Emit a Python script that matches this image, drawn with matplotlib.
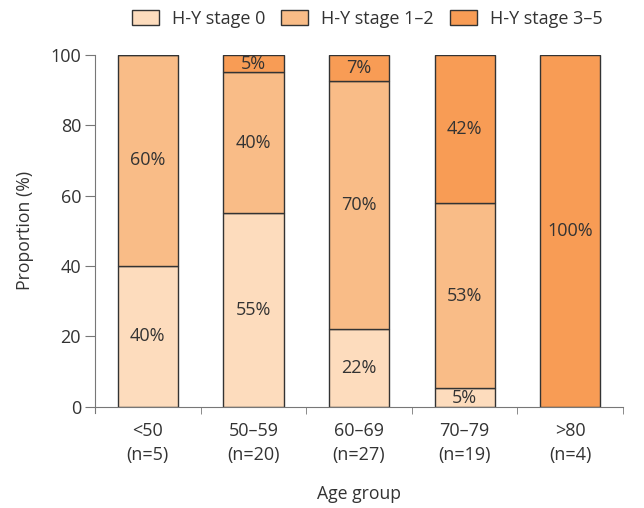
import numpy as np
import matplotlib.pyplot as plt
from matplotlib.patches import Patch

plt.rcParams["font.family"] = ["Open Sans", "DejaVu Sans"]

groups = ["<50\n(n=5)", "50\u201359\n(n=20)", "60\u201369\n(n=27)", "70\u201379\n(n=19)", ">80\n(n=4)"]
stage0 = [40.0, 55.0, 22.2, 5.3, 0.0]
stage12 = [60.0, 40.0, 70.4, 52.6, 0.0]
stage35 = [0.0, 5.0, 7.4, 42.1, 100.0]
series_names = ["H-Y stage 0", "H-Y stage 1\u20132", "H-Y stage 3\u20135"]
colors = ["#fddcbd", "#f9bc87", "#f89c55"]

text_color = "#333333"

fig = plt.figure(figsize=(6.44, 5.08), dpi=100)
ax = fig.add_axes([0.1475, 0.199, 0.82, 0.693])

x = np.arange(len(groups))
bottom = np.zeros(len(groups))
for vals, c in zip([stage0, stage12, stage35], colors):
    vals = np.array(vals)
    ax.bar(x, vals, width=0.57, bottom=bottom, color=c, edgecolor="#333333", linewidth=1.0)
    for xi, b, v in zip(x, bottom, vals):
        if v > 0:
            ax.text(xi, b + v / 2, f"{v:.0f}%", ha="center", va="center",
                    fontsize=13, color=text_color)
    bottom += vals

ax.set_xlim(-0.5, 4.5)
ax.set_ylim(0, 100)
ax.set_yticks([0, 20, 40, 60, 80, 100])
ax.set_xticks(x)
ax.set_xticklabels(groups, fontsize=13, color=text_color, linespacing=1.45)
ax.tick_params(axis="x", length=0, pad=11)
ax.set_xticks(list(x[:-1] + 0.5) + [4.5], minor=True)
ax.tick_params(axis="x", which="minor", length=5, color="#777777")
ax.tick_params(axis="y", length=7, color="#777777", labelsize=13, labelcolor=text_color, pad=3)

for s in ["top", "right"]:
    ax.spines[s].set_visible(False)
ax.spines["left"].set_color("#777777")
ax.spines["bottom"].set_color("#777777")
ax.spines["left"].set_bounds(-1.8, 100)
ax.spines["left"].set_position(("data", -0.5))

ax.set_ylabel("Proportion (%)", fontsize=12.7, color=text_color, labelpad=12)
ax.set_xlabel("Age group", fontsize=12.7, color=text_color, labelpad=15)

handles = [Patch(facecolor=c, edgecolor="#333333", linewidth=1.0) for c in colors]
fig.legend(handles, series_names, loc="upper center", bbox_to_anchor=(0.57, 1.012),
           ncol=3, frameon=False, fontsize=13, handlelength=1.5, handleheight=0.9,
           columnspacing=0.9, handletextpad=0.7, labelcolor=text_color)

fig.savefig("out.png", dpi=100)
